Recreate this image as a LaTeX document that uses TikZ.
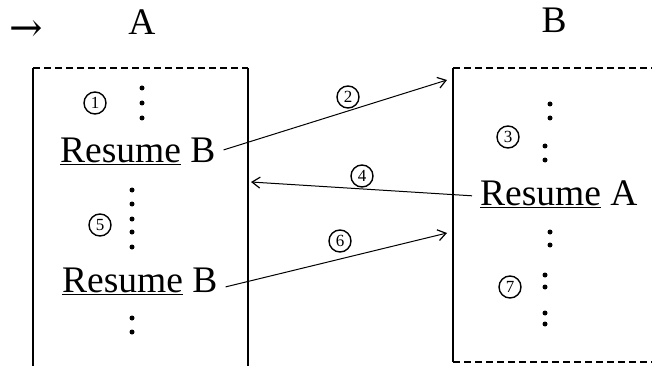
\documentclass[tikz,border=0pt]{standalone}
\usepackage{fontspec}
\setmainfont{Liberation Serif}
\newfontfamily\arrowfont{DejaVu Serif}
\usetikzlibrary{arrows.meta}
\begin{document}
\begin{tikzpicture}[x=1pt,y=-1pt,
 big/.style={font=\fontsize{37.5}{40}\selectfont, inner sep=0pt},
 num/.style={draw, circle, line width=1.4pt, inner sep=0pt, minimum size=22pt, font=\fontsize{17}{18}\selectfont},
 dotm/.style={circle, fill, inner sep=0pt, minimum size=5pt},
 conn/.style={line width=1pt, -{Straight Barb[length=8pt,width=11pt,line width=1.2pt]}},
 wall/.style={line width=2pt},
 topline/.style={line width=2.6pt, dash pattern=on 7pt off 4pt}]
\useasboundingbox[fill=white] (0,0) rectangle (652,366);
% titles
\node[font=\arrowfont\fontsize{40}{42}\selectfont, inner sep=0pt] (go) at (26,31) {→};
\node[big, anchor=base] (ta) at (142,35) {A};
\node[big, anchor=base] (tb) at (554,33) {B};
% box A
\coordinate (a1) at (33,68); \coordinate (a2) at (248,68);
\coordinate (a3) at (33,366); \coordinate (a4) at (248,366);
\draw[topline] (a1) -- (a2);
\draw[wall] (a1) -- (a3);
\draw[wall] (a2) -- (a4);
% box B
\coordinate (b1) at (453,68); \coordinate (b2) at (652,68);
\coordinate (b3) at (453,362); \coordinate (b4) at (652,362);
\draw[topline] (b1) -- (b2);
\draw[topline] (b3) -- (b4);
\draw[wall] (b1) -- (b3);
% texts in A
\node[num] (n1) at (95,103) {1};
\foreach \y in {88,103,118} \node[dotm] at (142,\y) {};
\node[big, anchor=base west] (rb1) at (60,162) {\underline{Resume} B};
\foreach \y in {190,204,219,232,247} \node[dotm] at (132,\y) {};
\node[num] (n5) at (100,225) {5};
\node[big, anchor=base west] (rb2) at (62,292) {\underline{Resume} B};
\foreach \y in {318,332} \node[dotm] at (132,\y) {};
% texts in B
\foreach \y in {104,118} \node[dotm] at (550,\y) {};
\foreach \y in {146,160} \node[dotm] at (545,\y) {};
\node[num] (n3) at (508,137) {3};
\node[big, anchor=base west] (ra) at (480,205) {\underline{Resume} A};
\foreach \y in {232,245} \node[dotm] at (550,\y) {};
\foreach \y in {275,287,313,324} \node[dotm] at (545,\y) {};
\node[num] (n7) at (510,287) {7};
% connectors
\coordinate (e2) at (447,80);
\coordinate (e4) at (251,182);
\coordinate (e6) at (447,233);
\draw[conn] ([xshift=8pt,yshift=1pt]rb1.east) -- (e2);
\draw[conn] ([xshift=-8pt,yshift=-2pt]ra.west) -- (e4);
\draw[conn] ([xshift=8pt,yshift=-6pt]rb2.east) -- (e6);
\node[num] (n2) at (348,97) {2};
\node[num] (n4) at (362,176) {4};
\node[num] (n6) at (340,241) {6};
\end{tikzpicture}
\end{document}
